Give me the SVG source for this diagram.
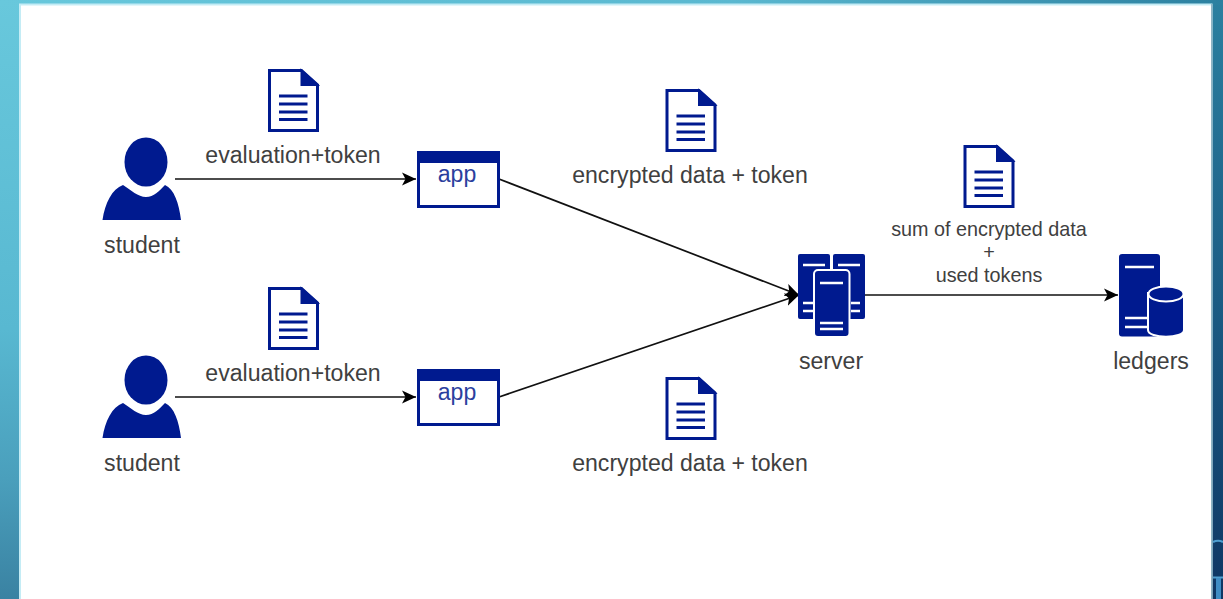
<svg xmlns="http://www.w3.org/2000/svg" width="1223" height="599" viewBox="0 0 1223 599">
<style>
.t{font-family:"Liberation Sans",Arial,sans-serif;font-size:23.1px;fill:#404040;text-anchor:middle}
.s{font-size:19.8px}
.b{fill:#001a8f}
.w{fill:none;stroke:#fff;stroke-width:2.4}
.c{fill:none;stroke:#111;stroke-width:1.7}
</style>
<defs>
<linearGradient id="bgl" x1="0" y1="0" x2="0" y2="1"><stop offset="0" stop-color="#68c8dc"/><stop offset="0.55" stop-color="#58b8d1"/><stop offset="0.8" stop-color="#4a9fbc"/><stop offset="1" stop-color="#3a82a2"/></linearGradient>
<linearGradient id="bgr" x1="0" y1="0" x2="0" y2="1"><stop offset="0" stop-color="#2b80a0"/><stop offset="0.5" stop-color="#1b5c84"/><stop offset="1" stop-color="#0e3663"/></linearGradient>
<linearGradient id="bgt" x1="0" y1="0" x2="1" y2="0"><stop offset="0" stop-color="#68c8dc"/><stop offset="0.6" stop-color="#5ab8d0"/><stop offset="1" stop-color="#2b80a0"/></linearGradient>
<marker id="a" markerUnits="userSpaceOnUse" markerWidth="16" markerHeight="14" refX="14" refY="7" orient="auto"><path d="M0 0.500L14 7L0 13.500L3.500 7Z" fill="#000"/></marker>
<g id="doc"><path d="M1.500 1.500H33.500L49.500 16V61.500H1.500Z" fill="#fff" stroke="#001a8f" stroke-width="3"/><path d="M33.500 1.500L49.500 16H33.500Z" fill="#001a8f" stroke="#001a8f" stroke-width="2"/><path d="M11 27H39.500M11 35H39.500M11 43H39.500M11 50.500H39.500" stroke="#001a8f" stroke-width="2.800"/></g>
<g id="user"><ellipse cx="44" cy="25" rx="21.500" ry="24.500" class="b"/><path d="M0.500 83C3 66 10 52 21 48C29 53 36 60 44 60C52 60 57 54 63 48C72 52 77 66 79 83Z" class="b"/></g>
<g id="appw"><rect x="1.500" y="1.500" width="80" height="54" fill="#fff" stroke="#001a8f" stroke-width="3"/><rect x="1" y="1" width="81" height="11" class="b"/></g>
</defs>
<rect x="0" y="0" width="20" height="599" fill="url(#bgl)"/>
<rect x="1211" y="0" width="12" height="599" fill="url(#bgr)"/>
<rect x="0" y="0" width="1223" height="5" fill="url(#bgt)"/>
<rect x="19" y="3.500" width="1193.500" height="595.500" fill="#c4ecf5"/>
<rect x="1211" y="4" width="1.500" height="595" fill="#8fb4c4"/>
<rect x="21" y="5.500" width="1190" height="593.500" fill="#fff"/>
<path d="M1213 542Q1218 539.500 1223 542M1213 577.500H1223" stroke="#4f9fd0" stroke-width="2.200" fill="none"/>
<rect x="1216" y="578" width="5" height="21" fill="#3f8dc4"/>

<g id="connectors">
<path class="c" d="M175 179H416" marker-end="url(#a)"/>
<path class="c" d="M175 397H416" marker-end="url(#a)"/>
<path class="c" d="M499 179L799 295" marker-end="url(#a)"/>
<path class="c" d="M499 397L799 295" marker-end="url(#a)"/>
<path class="c" d="M864 295H1118" marker-end="url(#a)"/>
</g>

<g id="student1"><use href="#user" x="102" y="137"/><text class="t" x="142" y="253">student</text></g>
<g id="student2"><use href="#user" x="102" y="355"/><text class="t" x="142" y="471">student</text></g>
<g id="doc1"><use href="#doc" x="268" y="69"/><text class="t" x="293" y="163">evaluation+token</text></g>
<g id="doc2"><use href="#doc" x="268" y="287"/><text class="t" x="293" y="381">evaluation+token</text></g>
<g id="app1"><use href="#appw" x="417" y="151"/><text class="t" x="457" y="182" style="fill:#2b3f9e">app</text></g>
<g id="app2"><use href="#appw" x="417" y="369"/><text class="t" x="457" y="400" style="fill:#2b3f9e">app</text></g>
<g id="doc3"><use href="#doc" x="665.500" y="89"/><text class="t" x="690" y="183">encrypted data + token</text></g>
<g id="doc4"><use href="#doc" x="665.500" y="377"/><text class="t" x="690" y="471">encrypted data + token</text></g>
<g id="doc5"><use href="#doc" x="963.500" y="145"/><text class="t s" x="989" y="236">sum of encrypted data</text><text class="t s" x="989" y="259">+</text><text class="t s" x="989" y="282">used tokens</text></g>
<g id="server">
<rect x="798" y="254" width="32" height="65" rx="2" class="b"/><rect x="833" y="254" width="32" height="65" rx="2" class="b"/>
<path d="M803 265H825M838 265H860M803 303H814M803 311H814M851 303H860M851 311H860" class="w"/>
<rect x="814" y="270" width="35.500" height="67" rx="4" class="b" stroke="#fff" stroke-width="2"/>
<path d="M820 283H843M820 323H843M820 329H843" class="w"/>
<text class="t" x="831" y="369">server</text>
</g>
<g id="ledgers">
<rect x="1119" y="254" width="41" height="82.500" rx="3" class="b"/>
<path d="M1125 267H1154M1125 318H1148M1125 327H1148" class="w"/>
<path d="M1148 293V330C1148 339 1184 339 1184 330V293Z" class="b" stroke="#fff" stroke-width="2"/>
<ellipse cx="1166" cy="294" rx="17.500" ry="7.500" class="b" stroke="#fff" stroke-width="2"/>
<text class="t" x="1151" y="369">ledgers</text>
</g>
</svg>
